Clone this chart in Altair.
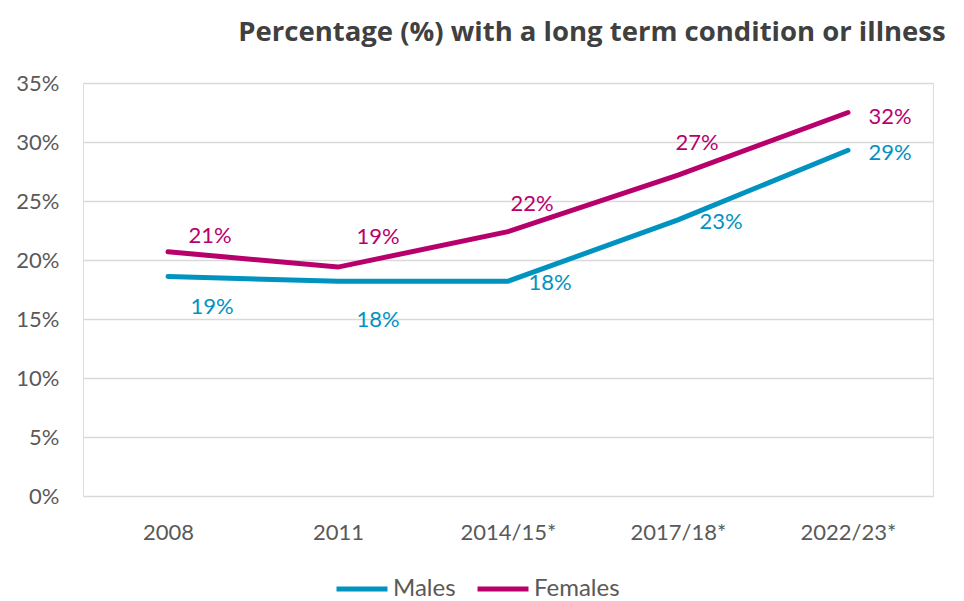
import altair as alt
import pandas as pd

years = ["2008", "2011", "2014/15*", "2017/18*", "2022/23*"]
males = [18.6, 18.2, 18.2, 23.4, 29.3]
females = [20.7, 19.4, 22.4, 27.2, 32.5]
male_labels = ["19%", "18%", "18%", "23%", "29%"]
female_labels = ["21%", "19%", "22%", "27%", "32%"]
series = ["Males", "Females"]
colors = ["#0093C0", "#B8006D"]

rows = []
for i, y in enumerate(years):
    rows.append({"year": y, "series": "Males", "value": males[i], "label": male_labels[i]})
    rows.append({"year": y, "series": "Females", "value": females[i], "label": female_labels[i]})
df = pd.DataFrame(rows)

FONT = "Lato"
x_enc = alt.X("year:N", sort=years, scale=alt.Scale(type="point", padding=0.5),
              axis=alt.Axis(title=None, labelFont=FONT, labelFontSize=22, labelColor="#595959",
                            labelPadding=26, ticks=False, domain=False, grid=False, labelAngle=0))
y_enc = alt.Y("value:Q", scale=alt.Scale(domain=[0, 35], nice=False),
              axis=alt.Axis(title=None, values=[0, 5, 10, 15, 20, 25, 30, 35],
                            labelExpr="datum.value + '%'", labelFont=FONT, labelFontSize=22,
                            labelColor="#595959", labelPadding=24, ticks=False, domain=False,
                            gridColor="#D9D9D9", gridWidth=1.5))
color_enc = alt.Color("series:N", scale=alt.Scale(domain=series, range=colors),
                      legend=alt.Legend(title=None, orient="none", legendX=251, legendY=478,
                                        direction="horizontal", symbolType="stroke",
                                        symbolStrokeWidth=5, symbolSize=2600, labelFont=FONT,
                                        labelFontSize=24, labelColor="#595959", labelOffset=3,
                                        columnPadding=11))

base = alt.Chart(df)
lines = base.mark_line(strokeWidth=5, strokeCap="round").encode(x=x_enc, y=y_enc, color=color_enc)

# label offsets (style) per point
offsets = {
    "Males": [(44, 30), (40, 39), (42, 2), (43, 2), (42, 3)],
    "Females": [(42, -16), (40, -30), (24, -28), (19, -32), (42, 4)],
}
layers = [lines]
for s, c in zip(series, colors):
    for i, yr in enumerate(years):
        dx, dy = offsets[s][i]
        t = base.transform_filter(
            (alt.datum.series == s) & (alt.datum.year == yr)
        ).mark_text(font=FONT, fontSize=22, color=c, dx=dx, dy=dy, align="center",
                    baseline="middle").encode(
            x=alt.X("year:N", sort=years), y="value:Q", text="label:N")
        layers.append(t)

chart = alt.layer(*layers).properties(
    width=850, height=413,
    title=alt.TitleParams("Percentage (%) with a long term condition or illness",
                          font="Open Sans", fontSize=27.5, fontWeight="bold", color="#404040",
                          anchor="middle", dx=84, offset=26),
    autosize=alt.AutoSizeParams(type="none"),
    padding={"left": 75, "top": 75, "right": 20, "bottom": 104},
).configure_view(stroke=None).configure(background="white")

chart.save("out.html", embed_options={"renderer": "svg", "actions": False})
